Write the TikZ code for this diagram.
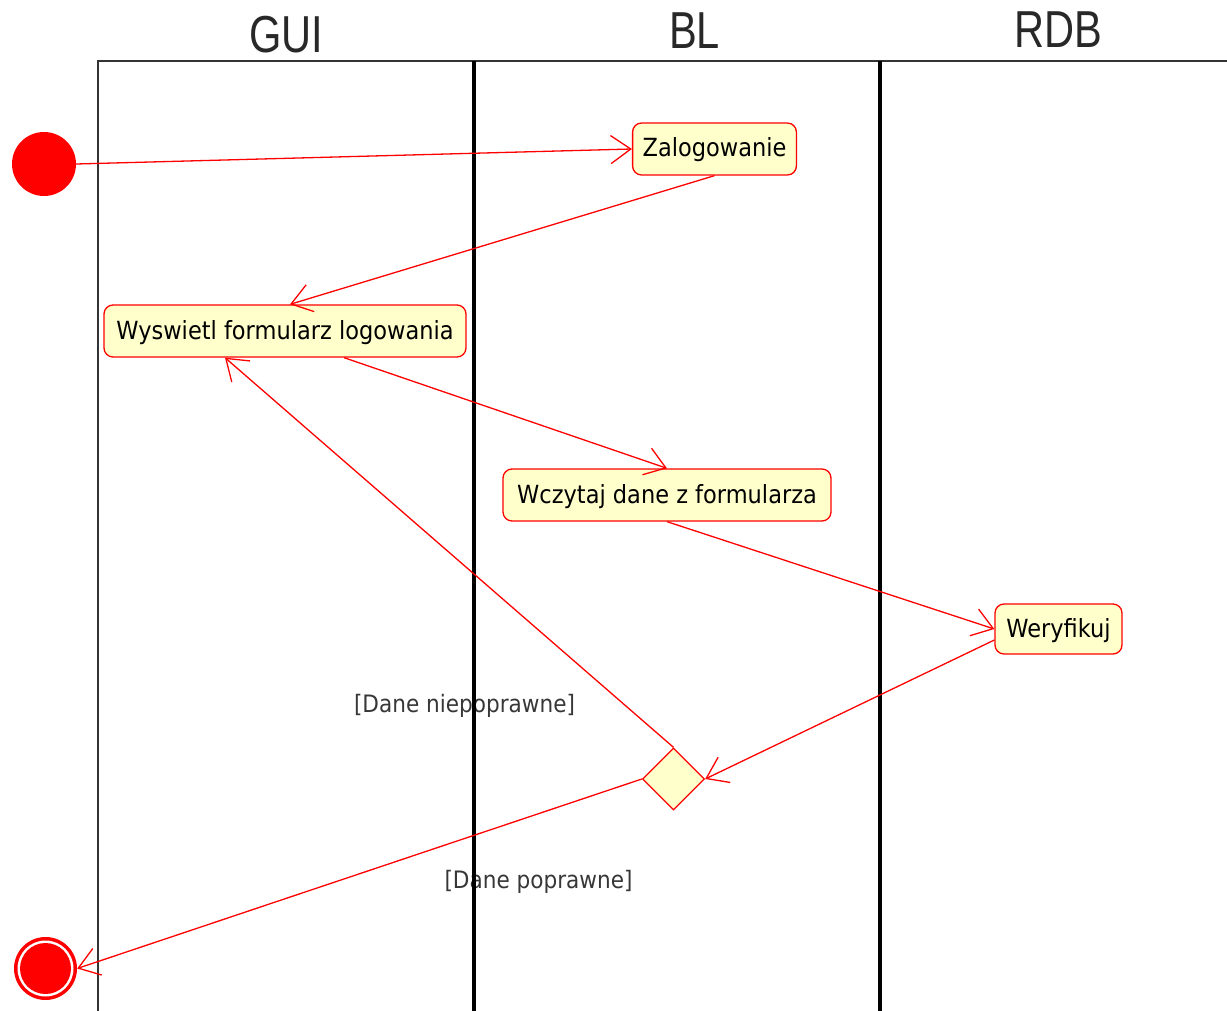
\documentclass[tikz,border=0pt]{standalone}
\usepackage{fontspec}
\usetikzlibrary{arrows.meta,shapes.geometric}
\newfontfamily\boxfont[FakeStretch=0.9]{DejaVu Sans}
\newfontfamily\lanefont[FakeStretch=0.8]{Liberation Sans}
\definecolor{actfill}{RGB}{255,255,204}
\definecolor{lanetext}{RGB}{40,40,40}
\definecolor{guardtext}{RGB}{55,55,55}

\begin{document}
\begin{tikzpicture}[x=1pt,y=-1pt,
  action/.style={draw=red, line width=1.3pt, fill=actfill, rounded corners=9pt,
    minimum height=52pt, inner xsep=10pt, inner ysep=0pt,
    font=\boxfont\fontsize{25}{30}\selectfont, text=black,
    text height=20.5pt, text depth=4.5pt},
  decision/.style={diamond, draw=red, line width=1.3pt, fill=actfill,
    minimum width=62pt, minimum height=62pt, inner sep=0pt},
  initial/.style={circle, fill=red, minimum size=64pt, inner sep=0pt},
  final/.style={circle, fill=red, minimum size=63pt, inner sep=0pt},
  lanetitle/.style={anchor=base, text=lanetext, font=\lanefont\fontsize{52}{60}\selectfont},
  guard/.style={text=guardtext, font=\boxfont\fontsize{24}{28}\selectfont},
  flow/.style={draw=red, line width=1.3pt, -{Straight Barb[length=20pt,width=28pt]}},
  laneline/.style={draw=black, line width=3.5pt},
  frameline/.style={draw=black!80, line width=2.4pt}
]
\useasboundingbox (0,0) rectangle (1227,1011);

% guard conditions (under the swimlane borders)
\node[guard] (gno) at (464.5,706) {[Dane niepoprawne]};
\node[guard] (gyes) at (538.5,882) {[Dane poprawne]};

% swimlane titles
\node[lanetitle] (hgui) at (286,53) {GUI};
\node[lanetitle] (hbl) at (694.5,49) {BL};
\node[lanetitle] (hrdb) at (1058.5,48) {RDB};

% swimlane borders
\coordinate (ftl) at (98,61);
\coordinate (ftr) at (1227,61);
\coordinate (fbl) at (98,1011);
\coordinate (l1t) at (474,61);
\coordinate (l1b) at (474,1011);
\coordinate (l2t) at (880,61);
\coordinate (l2b) at (880,1011);
\draw[frameline] (fbl) -- (ftl) -- (ftr);
\draw[laneline] (l1t) -- (l1b);
\draw[laneline] (l2t) -- (l2b);

% activities
\node[initial] (start) at (44,164) {};
\node[action, minimum width=163pt] (zal) at (714.5,149) {Zalogowanie};
\node[action, minimum width=362pt] (wys) at (285,331) {Wyswietl formularz logowania};
\node[action, minimum width=328pt] (wcz) at (667,495) {Wczytaj dane z formularza};
\node[action, minimum width=127pt, minimum height=50pt] (wer) at (1058.5,629) {Weryfikuj};
\node[decision] (dia) at (673.5,779) {};
\node[final] (end) at (45.5,968.5) {};
\fill[white] (end.center) circle (28pt);
\fill[red] (end.center) circle (25.5pt);

% control flow
\draw[flow] (start.east) -- (zal.west);
\draw[flow] (zal.south) -- ([xshift=5pt]wys.north);
\draw[flow] ([xshift=59pt]wys.south) -- (wcz.north);
\draw[flow] (wcz.south) -- (wer.west);
\draw[flow] ([yshift=-11pt]wer.west) -- (dia.east);
\draw[flow] (dia.north) -- ([xshift=-60pt]wys.south);
\draw[flow] (dia.west) -- (end.east);
\end{tikzpicture}
\end{document}
